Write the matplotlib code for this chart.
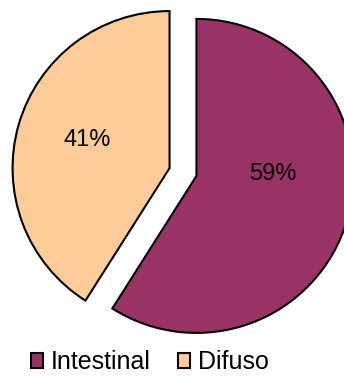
import matplotlib.pyplot as plt

plt.rcParams['font.family'] = ['Liberation Sans', 'DejaVu Sans']

categorias = ['Intestinal', 'Difuso']
valores = [59, 41]
cores = ['#993366', '#FFCC99']

fig = plt.figure(figsize=(3.44, 3.76), dpi=100)
ax = fig.add_axes([0, 0, 1, 1])

# explode em unidades de dados (pixels aqui)
wedges, textos, autotextos = ax.pie(
    valores, colors=cores, explode=[14, 14], startangle=90, counterclock=False,
    center=(183, 204), radius=157, autopct='%1.0f%%', pctdistance=0.53,
    wedgeprops={'edgecolor': 'black', 'linewidth': 1.5},
    textprops={'fontsize': 17, 'color': 'black'})

# rotulos como no excel
autotextos[0].set_position((273, 202))
autotextos[1].set_position((87, 236))

ax.set_xlim(0, 344)
ax.set_ylim(0, 376)
ax.set_aspect('equal')
ax.axis('off')

fig.legend(wedges, categorias, loc='center', bbox_to_anchor=(0.435, 0.036),
           ncol=2, frameon=False, fontsize=18, handlelength=0.5, handleheight=0.5,
           handletextpad=0.3, columnspacing=1.1, borderpad=0)

fig.savefig('out.png', dpi=100)
